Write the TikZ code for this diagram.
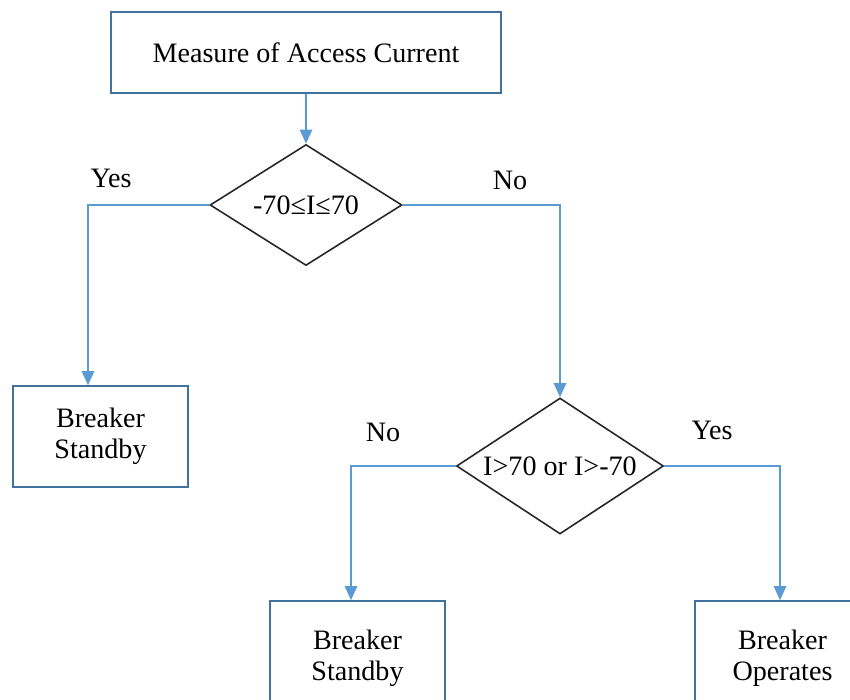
\documentclass[tikz,border=0pt]{standalone}
\usepackage{fontspec}
\setmainfont{Liberation Serif}
\usetikzlibrary{shapes.geometric,arrows.meta}
\definecolor{boxline}{HTML}{41719C}
\definecolor{flowline}{HTML}{5B9BD5}
\begin{document}
\begin{tikzpicture}[>={Triangle[length=8pt,width=7pt]},
  font=\fontsize{16}{17.6}\selectfont,
  stepbox/.style={draw=boxline, line width=0.9pt, rectangle, align=center,
    minimum width=3.5cm, minimum height=2.02cm, inner sep=0pt},
  test/.style={draw=black!85, line width=0.9pt, diamond, inner sep=0pt},
  flow/.style={->, draw=flowline, line width=1.1pt}]
  \clip (0,0) rectangle (17,-14);
  % process boxes
  \node[stepbox, minimum width=7.8cm, minimum height=1.62cm]
    (measure) at (6.12,-1.05) {Measure of Access Current};
  \node[stepbox] (standbyA) at (2.01,-8.73) {Breaker\\Standby};
  \node[stepbox, minimum height=2.3cm] (standbyB) at (7.15,-13.17)
    {Breaker\\Standby};
  \node[stepbox, minimum height=2.3cm] (operates) at (15.65,-13.17)
    {Breaker\\Operates};
  % decisions
  \node[test, minimum width=3.84cm, minimum height=2.42cm, aspect=1.6]
    (range) at (6.12,-4.1) {-70≤I≤70};
  \node[test, minimum width=4.14cm, minimum height=2.72cm, aspect=1.55]
    (limit) at (11.2,-9.32) {I>70 or I>-70};
  % branch labels
  \node (yesA) at (2.22,-3.56) {Yes};
  \node (noA) at (10.2,-3.6) {No};
  \node (noB) at (7.66,-8.64) {No};
  \node (yesB) at (14.24,-8.6) {Yes};
  % connectors
  \draw[flow] (measure.south) -- (range.north);
  \draw[flow] (range.west) -| ([xshift=-0.25cm]standbyA.north);
  \draw[flow] (range.east) -| (limit.north);
  \draw[flow] (limit.west) -| ([xshift=-0.13cm]standbyB.north);
  \draw[flow] (limit.east) -| ([xshift=-0.05cm]operates.north);
\end{tikzpicture}
\end{document}
